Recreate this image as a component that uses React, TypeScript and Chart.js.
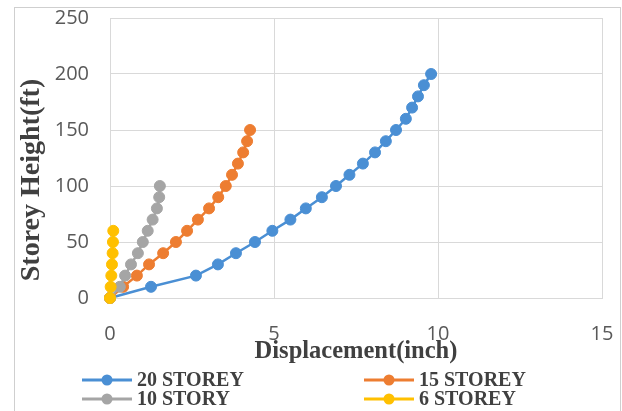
import React, { useEffect, useRef } from "react";
import { Chart, registerables } from "chart.js";

Chart.register(...registerables);

// ---- Data ----
const seriesNames = ["20 STOREY", "15 STOREY", "10 STORY", "6 STOREY"];
const seriesColors = ["#4a8fd4", "#ed7d31", "#a5a5a5", "#ffc000"];

const heights20 = [0, 10, 20, 30, 40, 50, 60, 70, 80, 90, 100, 110, 120, 130, 140, 150, 160, 170, 180, 190, 200];
const disp20 = [0, 1.25, 2.62, 3.29, 3.84, 4.42, 4.95, 5.5, 5.97, 6.46, 6.89, 7.3, 7.71, 8.08, 8.41, 8.72, 9.02, 9.21, 9.39, 9.57, 9.79];

const heights15 = [0, 10, 20, 30, 40, 50, 60, 70, 80, 90, 100, 110, 120, 130, 140, 150];
const disp15 = [0, 0.4, 0.82, 1.19, 1.62, 2.01, 2.35, 2.68, 3.02, 3.3, 3.53, 3.72, 3.9, 4.06, 4.18, 4.27];

const heights10 = [0, 10, 20, 30, 40, 50, 60, 70, 80, 90, 100];
const disp10 = [0, 0.3, 0.46, 0.64, 0.85, 1.0, 1.15, 1.3, 1.43, 1.5, 1.52];

const heights6 = [0, 10, 20, 30, 40, 50, 60];
const disp6 = [0, 0.02, 0.04, 0.06, 0.08, 0.09, 0.1];

const xTicks = [0, 5, 10, 15];
const yTicks = [0, 50, 100, 150, 200, 250];

const xTitle = "Displacement(inch)";
const yTitle = "Storey Height(ft)";

const seriesDisp = [disp20, disp15, disp10, disp6];
const seriesHeights = [heights20, heights15, heights10, heights6];

const TEXT_COLOR = "#404040";
const TICK_COLOR = "#595959";
const GRID_COLOR = "#d9d9d9";

const decorPlugin = {
  id: "decor",
  afterDraw(chart: any) {
    const ctx = chart.ctx as CanvasRenderingContext2D;
    ctx.save();
    // outer frame
    ctx.strokeStyle = "#cfcfcf";
    ctx.lineWidth = 1;
    ctx.strokeRect(14.5, 7.5, 606, 430);

    // y axis title
    ctx.fillStyle = TEXT_COLOR;
    ctx.font = "bold 28px 'Liberation Serif', serif";
    ctx.textAlign = "center";
    ctx.textBaseline = "alphabetic";
    ctx.translate(39, 180);
    ctx.rotate(-Math.PI / 2);
    ctx.fillText(yTitle, 0, 0);
    ctx.restore();

    // legend
    ctx.save();
    const cols = [82, 364];
    const rows = [380, 399];
    ctx.font = "bold 20px 'Liberation Serif', serif";
    ctx.textAlign = "left";
    ctx.textBaseline = "middle";
    seriesNames.forEach((name, i) => {
      const x0 = cols[i % 2];
      const y = rows[Math.floor(i / 2)];
      const color = seriesColors[i];
      ctx.strokeStyle = color;
      ctx.lineWidth = 3;
      ctx.beginPath();
      ctx.moveTo(x0, y);
      ctx.lineTo(x0 + 50, y);
      ctx.stroke();
      ctx.fillStyle = color;
      ctx.beginPath();
      ctx.arc(x0 + 25, y, 5.5, 0, Math.PI * 2);
      ctx.fill();
      ctx.fillStyle = TEXT_COLOR;
      ctx.fillText(name, x0 + 55, y + 1);
    });
    ctx.restore();
  },
};

export default function App() {
  const canvasRef = useRef<HTMLCanvasElement | null>(null);

  useEffect(() => {
    if (!canvasRef.current) return;
    const datasets = seriesNames.map((name, i) => ({
      label: name,
      data: seriesDisp[i].map((x, j) => ({ x, y: seriesHeights[i][j] })),
      borderColor: seriesColors[i],
      backgroundColor: seriesColors[i],
      pointBackgroundColor: seriesColors[i],
      pointBorderColor: seriesColors[i],
      pointBorderWidth: 1,
      pointRadius: 5.5,
      borderWidth: 2.5,
      showLine: true,
      tension: 0,
      clip: false as any,
      order: seriesNames.length - 1 - i,
    }));

    const chart = new Chart(canvasRef.current, {
      type: "scatter",
      data: { datasets },
      plugins: [decorPlugin],
      options: {
        animation: false,
        responsive: false,
        devicePixelRatio: 1,
        layout: { padding: { left: 0, right: 20, top: 18, bottom: 0 } },
        plugins: {
          legend: { display: false },
          tooltip: { enabled: false },
          title: { display: false },
        },
        scales: {
          x: {
            type: "linear",
            min: 0,
            max: 15,
            afterBuildTicks: (s: any) => {
              s.ticks = xTicks.map((v) => ({ value: v }));
            },
            afterFit: (s: any) => {
              s.height = 113;
              s.paddingLeft = 0;
              s.paddingRight = 0;
            },
            grid: { color: GRID_COLOR, lineWidth: 1, drawTicks: false },
            border: { display: true, color: GRID_COLOR },
            ticks: {
              padding: 24,
              color: TICK_COLOR,
              font: { family: "'Open Sans', sans-serif", size: 20 },
            },
            title: {
              display: true,
              text: xTitle,
              color: TEXT_COLOR,
              font: { family: "'Liberation Serif', serif", size: 24.5, weight: "bold" },
              padding: { top: 0, bottom: 45 },
            },
          },
          y: {
            type: "linear",
            min: 0,
            max: 250,
            afterBuildTicks: (s: any) => {
              s.ticks = yTicks.map((v) => ({ value: v }));
            },
            afterFit: (s: any) => {
              s.width = 110;
              s.paddingTop = 0;
              s.paddingBottom = 0;
            },
            grid: { color: GRID_COLOR, lineWidth: 1, drawTicks: false },
            border: { display: true, color: GRID_COLOR },
            ticks: {
              padding: 21,
              color: TICK_COLOR,
              font: { family: "'Open Sans', sans-serif", size: 20 },
            },
          },
        },
      },
    });
    return () => chart.destroy();
  }, []);

  return (
    <div style={{ position: "absolute", left: 0, top: 0, width: 622, height: 411, background: "#fff" }}>
      <canvas ref={canvasRef} width={622} height={411} style={{ display: "block" }} />
    </div>
  );
}
